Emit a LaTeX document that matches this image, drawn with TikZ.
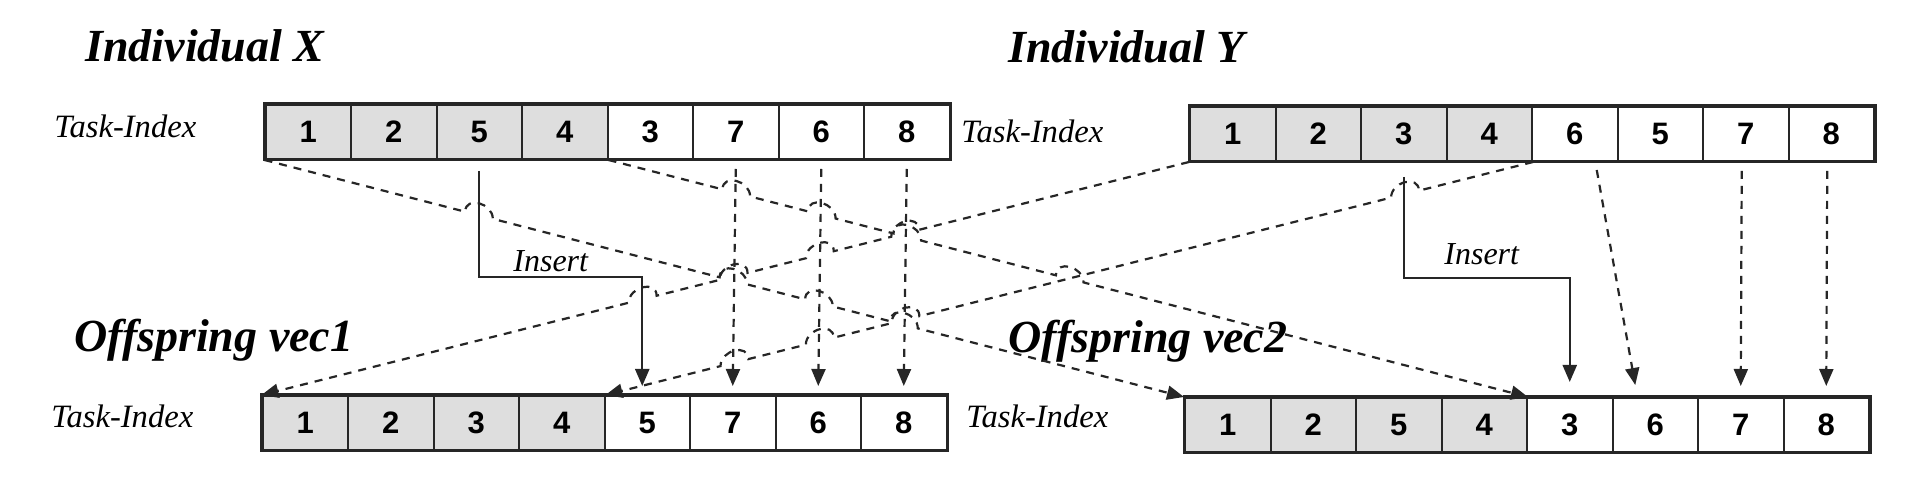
\documentclass[tikz,border=0pt]{standalone}
\usepackage{fontspec}
\setmainfont{Liberation Serif}
\setsansfont{Liberation Sans}
\usetikzlibrary{calc,arrows.meta}

\tikzset{
  cell/.style={draw=black!85, line width=1pt, minimum width=42.75pt, minimum height=27pt,
    inner sep=0pt, font=\sffamily\bfseries\fontsize{15.5}{16}\selectfont},
  boxframe/.style={draw=black!85, line width=1.5pt},
  headlbl/.style={inner sep=0pt, anchor=base west, font=\bfseries\itshape\fontsize{23}{26}\selectfont},
  tasklbl/.style={inner sep=0pt, anchor=base west, font=\itshape\fontsize{16.3}{18}\selectfont},
  inslbl/.style={inner sep=0pt, anchor=base west, font=\itshape\fontsize{16}{18}\selectfont},
  dline/.style={draw=black!85, line width=1.1pt, dash pattern=on 4pt off 3.5pt},
  iline/.style={draw=black!85, line width=1.2pt},
  arrowhd/.style={-{Triangle[length=8.5pt,width=7pt]}}
}

\begin{document}
\begin{tikzpicture}[x=0.5pt,y=-0.5pt]
\useasboundingbox (0,0) rectangle (1924,490);
% the four task vectors
\foreach \r/\lx/\ty/\lst in {x/265.5/105/{1,2,5,4,3,7,6,8}, y/1190/107/{1,2,3,4,6,5,7,8},
    a/262.5/396/{1,2,3,4,5,7,6,8}, b/1185/398/{1,2,5,4,3,6,7,8}} {
  \foreach \v [count=\i] in \lst {
    \pgfmathtruncatemacro\g{\i<5 ? 13 : 0}
    \node[cell, fill=black!\g] (\r\i) at ({\lx+(\i-0.5)*85.5},{\ty+27}) {\v};
  }
  \draw[boxframe] (\r1.north west) rectangle (\r8.south east);
}
% labels
\node[headlbl] (hx) at (85,62) {Individual X};
\node[headlbl] (hy) at (1008,63) {Individual Y};
\node[headlbl] (ha) at (74,352) {Offspring vec1};
\node[headlbl] (hb) at (1008,353) {Offspring vec2};
\node[tasklbl] (tx) at (54,138) {Task-Index};
\node[tasklbl] (ty) at (961,143) {Task-Index};
\node[tasklbl] (ta) at (51,428) {Task-Index};
\node[tasklbl] (tb) at (966,428) {Task-Index};
\node[inslbl] (ix) at (513,272) {Insert};
\node[inslbl] (iy) at (1444,265) {Insert};
% insert
\draw[iline,arrowhd] ($(x3.south)+(0,11)$) |- ($(a5.north)+(-5,-118)$) -- ($(a5.north)+(-5,-9)$);
\draw[iline,arrowhd] ($(y3.south)+(0,15)$) |- ($(b5.north)+(0,-119)$) -- ($(b5.north)+(0,-15)$);
% straight copies
\foreach \i in {6,7,8}
  \draw[dline,arrowhd] ($(x\i.south)+(0,9)$) -- ($(a\i.north)+(0,-9)$);
\draw[dline,arrowhd] ($(y5.south)+(22,8)$) -- ($(b6.north)+(-20,-12)$);
\foreach \i in {7,8}
  \draw[dline,arrowhd] ($(y\i.south)+(-4,9)$) -- ($(b\i.north)+(0,-11)$);
% crossing lines with hops
\draw[dline,arrowhd] (x1.south west) foreach \t in {0.2333,0.510,0.603,0.6955} {
  -- ($(x1.south west)!{\t-0.015}!(b1.north west)$) .. controls +(0,-16) and +(0,-16) ..
  ($(x1.south west)!{\t+0.015}!(b1.north west)$) } -- (b1.north west);
\draw[dline,arrowhd] (x4.south east) foreach \t in {0.139,0.232,0.325,0.5016} {
  -- ($(x4.south east)!{\t-0.015}!(b4.north east)$) .. controls +(0,-16) and +(0,-16) ..
  ($(x4.south east)!{\t+0.015}!(b4.north east)$) } -- (b4.north east);
\draw[dline,arrowhd] (y1.south west) foreach \t in {0.306,0.398,0.491,0.589} {
  -- ($(y1.south west)!{\t-0.015}!(a1.north west)$) .. controls +(0,-16) and +(0,-16) ..
  ($(y1.south west)!{\t+0.015}!(a1.north west)$) } -- (a1.north west);
\draw[dline,arrowhd] (y4.south east) foreach \t in {0.138,0.6766,0.769,0.861} {
  -- ($(y4.south east)!{\t-0.015}!(a4.north east)$) .. controls +(0,-16) and +(0,-16) ..
  ($(y4.south east)!{\t+0.015}!(a4.north east)$) } -- (a4.north east);
\end{tikzpicture}
\end{document}
